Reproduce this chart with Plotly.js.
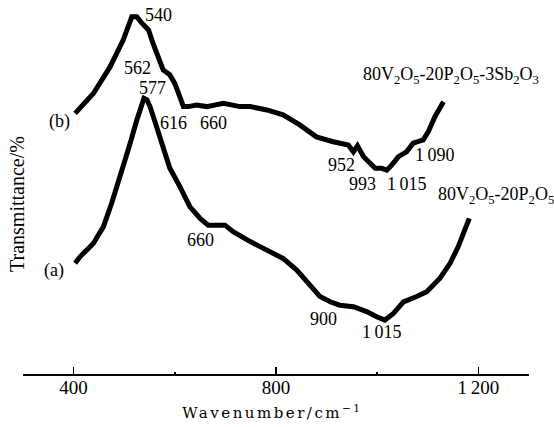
<!DOCTYPE html>
<html>
<head>
<meta charset="utf-8">
<script src="https://cdn.plot.ly/plotly-3.0.1.min.js"></script>
<style>
html,body{margin:0;padding:0;background:#fff;}
#chart{width:554px;height:427px;}
</style>
</head>
<body>
<div id="chart"></div>
<script>
// Curve (b): 80V2O5-20P2O5-3Sb2O3
var bWavenumber = [403,439,472,498,515,525,535,548,557,567,577,590,600,610,617,627,643,663,696,729,749,782,814,847,880,913,943,953,961,973,986,996,1009,1019,1029,1042,1058,1071,1091,1101,1114,1131];
var bTransmittance = [69.7,75.0,82.1,89.3,95.5,95.5,93.8,92.0,88.4,84.8,81.3,80.0,77.7,74.1,71.5,71.5,71.9,71.5,72.4,71.5,71.5,70.6,69.3,66.6,63.4,62.1,61.2,59.4,61.0,58.1,56.3,55.0,55.0,54.5,55.9,58.1,59.4,61.7,62.6,64.8,68.8,72.8];
// Curve (a): 80V2O5-20P2O5
var aWavenumber = [403,413,439,459,475,488,498,509,525,535,539,545,551,564,577,590,610,630,650,666,699,716,749,782,814,841,864,887,907,926,953,979,999,1015,1032,1052,1078,1098,1124,1144,1160,1174,1182];
var aTransmittance = [29.6,31.4,34.9,39.4,45.6,51.0,55.4,60.4,67.9,72.8,73.7,73.3,71.5,66.1,60.8,55.1,50.1,44.7,41.6,39.8,39.8,38.0,35.4,33.2,30.9,27.8,24.2,20.7,19.3,18.4,18.0,16.7,15.3,14.4,16.2,19.3,20.7,22.0,25.6,29.6,34.0,38.5,41.6];
// Peak labels
var peakLabels = ["540","562","577","616","660","952","993","1\u2009015","1\u2009090","660","900","1\u2009015","(b)","(a)","80V<sub>2</sub>O<sub>5</sub>-20P<sub>2</sub>O<sub>5</sub>-3Sb<sub>2</sub>O<sub>3</sub>","80V<sub>2</sub>O<sub>5</sub>-20P<sub>2</sub>O<sub>5</sub>"];
var peakLabelX = [567,527,556,598,676,930,970,1059,1114,650,893,1010,373,362,1146,1234];
var peakLabelY = [96.0,81.8,76.5,67.2,67.2,55.9,50.8,50.8,58.6,35.8,14.7,11.2,67.6,27.8,79.7,47.6];
// Axis ticks
var tickValues = [400,800,1200];
var tickLabels = ["400","800","1\u2009200"];
var xTitle = "Wavenumber/cm<sup>\u22121</sup>";
var yTitle = "Transmittance/%";

var serif = "Liberation Serif, Times New Roman, serif";
var lineStyle = {color:"#000", width:5};

var traces = [
  {x:bWavenumber, y:bTransmittance, mode:"lines", line:lineStyle, hoverinfo:"skip", showlegend:false},
  {x:aWavenumber, y:aTransmittance, mode:"lines", line:lineStyle, hoverinfo:"skip", showlegend:false}
];

var annotations = peakLabels.map(function(t,i){
  return {x:peakLabelX[i], y:peakLabelY[i], xref:"x", yref:"y", text:t, showarrow:false,
          xanchor:"center", yanchor:"middle", font:{family:serif, size:18, color:"#000"}};
});
annotations.push({x:(272-23)/506, y:(374-412)/374, xref:"paper", yref:"paper", text:xTitle, showarrow:false,
  xanchor:"center", yanchor:"middle", font:{family:"DejaVu Serif, serif", size:15, color:"#000"}});
annotations.push({x:(17-23)/506, y:(374-204)/374, xref:"paper", yref:"paper", text:yTitle, showarrow:false,
  textangle:-90, xanchor:"center", yanchor:"middle", font:{family:serif, size:20, color:"#000"}});

var layout = {
  width:554, height:427,
  margin:{l:23, r:25, t:0, b:53, pad:0},
  paper_bgcolor:"#fff", plot_bgcolor:"#fff",
  xaxis:{range:[300,1300], showgrid:false, zeroline:false, showline:true, linecolor:"#000", linewidth:1.5,
         ticks:"inside", ticklen:7, tickwidth:1.5, tickcolor:"#000",
         tickvals:tickValues, ticktext:tickLabels, ticklabelstandoff:-4,
         tickfont:{family:serif, size:19, color:"#000"},
         minor:{tickvals:[600,1000], ticks:"inside", ticklen:2, tickwidth:1.5, tickcolor:"#000", showgrid:false},
         fixedrange:true},
  yaxis:{range:[0,100], visible:false, fixedrange:true},
  annotations:annotations,
  showlegend:false
};

Plotly.newPlot("chart", traces, layout, {staticPlot:true, displayModeBar:false}).then(function(){
  var texts = document.querySelectorAll(".annotation-text");
  texts.forEach(function(el){
    if (el.textContent.indexOf("Wavenumber") === 0) {
      el.style.letterSpacing = "2.5px";
    }
  });
});
</script>
</body>
</html>
